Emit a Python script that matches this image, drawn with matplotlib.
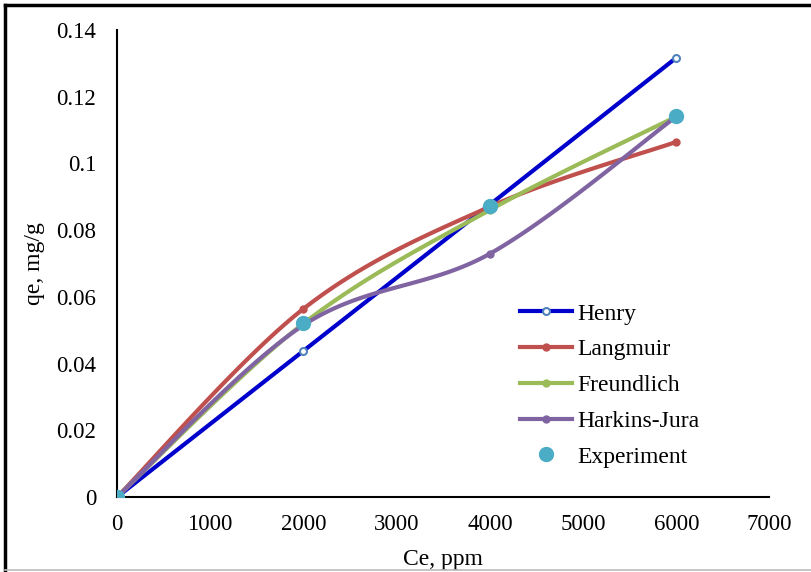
import numpy as np
import matplotlib.pyplot as plt
from matplotlib.lines import Line2D

plt.rcParams['font.family'] = ['Liberation Serif', 'DejaVu Serif']

ce = [0, 2000, 4000, 6000]
henry = [0, 0.0438, 0.0876, 0.1316]
langmuir = [0, 0.0564, 0.0870, 0.1064]
freundlich = [0, 0.0520, 0.0860, 0.1140]
harkins = [0, 0.0515, 0.0729, 0.1140]
experiment = [0, 0.0520, 0.0872, 0.1142]


def smooth(x, y, n=40):
    # Excel style smoothed line (Catmull-Rom through the points)
    x = np.asarray(x, float)
    y = np.asarray(y, float)
    px = np.concatenate([[x[0]], x, [x[-1]]])
    py = np.concatenate([[y[0]], y, [y[-1]]])
    xs, ys = [], []
    t = np.linspace(0, 1, n)
    for i in range(1, len(px) - 2):
        p0x, p1x, p2x, p3x = px[i - 1:i + 3]
        p0y, p1y, p2y, p3y = py[i - 1:i + 3]
        c1x = p1x + (p2x - p0x) / 6
        c1y = p1y + (p2y - p0y) / 6
        c2x = p2x - (p3x - p1x) / 6
        c2y = p2y - (p3y - p1y) / 6
        bx = (1 - t) ** 3 * p1x + 3 * (1 - t) ** 2 * t * c1x + 3 * (1 - t) * t ** 2 * c2x + t ** 3 * p2x
        by = (1 - t) ** 3 * p1y + 3 * (1 - t) ** 2 * t * c1y + 3 * (1 - t) * t ** 2 * c2y + t ** 3 * p2y
        xs.extend(bx)
        ys.extend(by)
    return xs, ys


fig = plt.figure(figsize=(8.11, 5.72), dpi=100)
ax = fig.add_axes([0.1443, 0.131, 0.8045, 0.817])

series = [
    ('Langmuir', langmuir, '#C0504D'),
    ('Freundlich', freundlich, '#9BBB59'),
    ('Harkins-Jura', harkins, '#8064A2'),
]

ax.plot(ce, henry, color='#0000CC', lw=3, zorder=3)
ax.plot(ce, henry, 'o', ms=5, mfc='white', mec='#4F81BD', mew=1.5, zorder=4)
for name, vals, col in series:
    sx, sy = smooth(ce, vals)
    ax.plot(sx, sy, color=col, lw=3, zorder=3)
    ax.plot(ce, vals, 'o', ms=5, color=col, zorder=4)
ax.plot(ce, experiment, 'o', ms=10, color='#4BACC6', zorder=5)

# legend proxies
h1, = ax.plot([], [], color='#0000CC', lw=3, marker='o', ms=5, mfc='white', mec='#4F81BD', mew=1.5)
hs = [h1]
for name, vals, col in series:
    h, = ax.plot([], [], color=col, lw=3, marker='o', ms=5)
    hs.append(h)
h5, = ax.plot([], [], 'o', ms=10, color='#4BACC6')
hs.append(h5)
ax.legend(hs, ['Henry', 'Langmuir', 'Freundlich', 'Harkins-Jura', 'Experiment'],
          frameon=False, fontsize=17, loc='upper left', bbox_to_anchor=(0.603, 0.435),
          handlelength=2.2, handletextpad=0.25, labelspacing=0.6, borderaxespad=0)

ax.set_xlim(0, 7000)
ax.set_ylim(0, 0.14)
ax.set_xticks(np.arange(0, 7001, 1000))
ax.set_yticks(np.arange(0, 0.141, 0.02))
ax.set_yticklabels(['0', '0.02', '0.04', '0.06', '0.08', '0.1', '0.12', '0.14'])
ax.tick_params(length=0, labelsize=16.5)
ax.tick_params(axis='x', pad=12)
ax.tick_params(axis='y', pad=15)
ax.spines['top'].set_visible(False)
ax.spines['right'].set_visible(False)
ax.spines['left'].set_linewidth(1.5)
ax.spines['bottom'].set_linewidth(1.5)
ax.set_xlabel('Ce, ppm', fontsize=17, labelpad=10)
ax.set_ylabel('qe, mg/g', fontsize=17, labelpad=8)

# cropped frame of the original chart
fig.add_artist(Line2D([0.006, 1.0], [0.991, 0.991], transform=fig.transFigure, color='black', lw=2.5))
fig.add_artist(Line2D([0.006, 0.006], [0.004, 0.991], transform=fig.transFigure, color='black', lw=2.5))
fig.add_artist(Line2D([0.006, 1.0], [0.004, 0.004], transform=fig.transFigure, color='#BBBBBB', lw=1.2))

fig.savefig('out.png', dpi=100)
